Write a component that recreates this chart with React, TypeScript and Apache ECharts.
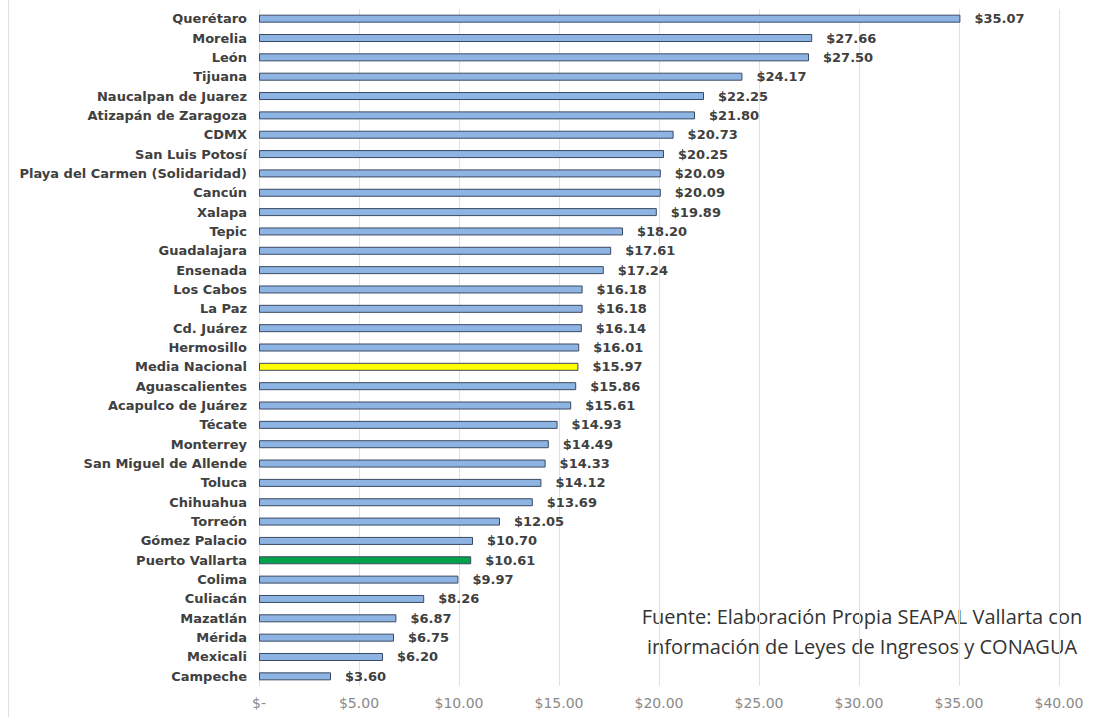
import React, { useEffect, useRef } from "react";
import * as echarts from "echarts";

const cities = [
  "Querétaro", "Morelia", "León", "Tijuana", "Naucalpan de Juarez", "Atizapán de Zaragoza",
  "CDMX", "San Luis Potosí", "Playa del Carmen (Solidaridad)", "Cancún", "Xalapa", "Tepic",
  "Guadalajara", "Ensenada", "Los Cabos", "La Paz", "Cd. Juárez", "Hermosillo", "Media Nacional",
  "Aguascalientes", "Acapulco de Juárez", "Técate", "Monterrey", "San Miguel de Allende", "Toluca",
  "Chihuahua", "Torreón", "Gómez Palacio", "Puerto Vallarta", "Colima", "Culiacán", "Mazatlán",
  "Mérida", "Mexicali", "Campeche",
];
const tariffs = [
  35.07, 27.66, 27.5, 24.17, 22.25, 21.8, 20.73, 20.25, 20.09, 20.09, 19.89, 18.2, 17.61, 17.24,
  16.18, 16.18, 16.14, 16.01, 15.97, 15.86, 15.61, 14.93, 14.49, 14.33, 14.12, 13.69, 12.05, 10.7,
  10.61, 9.97, 8.26, 6.87, 6.75, 6.2, 3.6,
];
const highlightColors: Record<string, string> = {
  "Media Nacional": "#FFFF00",
  "Puerto Vallarta": "#00A24A",
};
const sourceLines = [
  "Fuente: Elaboración Propia SEAPAL Vallarta con",
  "información de Leyes de Ingresos y CONAGUA",
];

export default function App() {
  const ref = useRef<HTMLDivElement>(null);
  useEffect(() => {
    if (!ref.current) return;
    const chart = echarts.init(ref.current, null, { renderer: "svg" });
    const font = "'DejaVu Sans', sans-serif";
    chart.setOption({
      animation: false,
      backgroundColor: "#ffffff",
      grid: { left: 259, right: 37, top: 9, bottom: 31, containLabel: false },
      xAxis: {
        type: "value",
        min: 0,
        max: 40,
        interval: 5,
        axisLine: { show: false },
        axisTick: { show: false },
        splitLine: { show: true, lineStyle: { color: "#e0e0e0", width: 1 } },
        axisLabel: {
          color: "#8a8a8a",
          fontSize: 14,
          fontFamily: font,
          margin: 10,
          formatter: (v: number) => (v === 0 ? "$-" : "$" + v.toFixed(2)),
        },
      },
      yAxis: {
        type: "category",
        data: cities,
        inverse: true,
        axisLine: { show: false },
        axisTick: { show: false },
        axisLabel: {
          color: "#404040",
          fontSize: 13,
          fontWeight: "bold",
          fontFamily: font,
          margin: 12,
        },
      },
      series: [
        {
          type: "bar",
          barWidth: 8,
          data: tariffs.map((v, i) => ({
            value: v,
            itemStyle: {
              color: highlightColors[cities[i]] || "#8EB4E3",
              borderColor: "#3B4A63",
              borderWidth: 1,
            },
          })),
          label: {
            show: true,
            position: "right",
            distance: 14,
            color: "#404040",
            fontSize: 13,
            fontWeight: "bold",
            fontFamily: font,
            formatter: (p: any) => "$" + Number(p.value).toFixed(2),
          },
        },
      ],
      graphic: [
        { type: "line", shape: { x1: 8.5, y1: 0, x2: 8.5, y2: 717 }, style: { stroke: "#e0e0e0", lineWidth: 1 } },
        {
          type: "text",
          x: 862,
          y: 616,
          style: {
            text: sourceLines[0],
            font: "20px 'Open Sans', sans-serif",
            fill: "#333333",
            align: "center",
            verticalAlign: "middle",
          },
        },
        {
          type: "text",
          x: 862,
          y: 646,
          style: {
            text: sourceLines[1],
            font: "20px 'Open Sans', sans-serif",
            fill: "#333333",
            align: "center",
            verticalAlign: "middle",
          },
        },
      ],
    });
    return () => chart.dispose();
  }, []);
  return (
    <div
      ref={ref}
      style={{ position: "fixed", left: 0, top: 0, width: 1096, height: 717 }}
    />
  );
}
